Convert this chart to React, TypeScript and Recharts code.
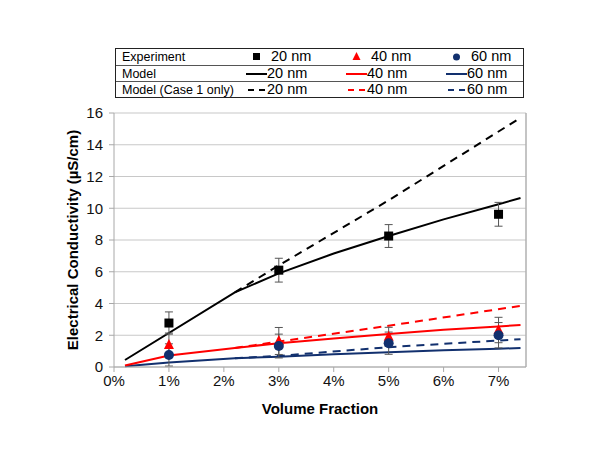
import React from 'react';
import { ComposedChart, Line, Scatter, XAxis, YAxis, CartesianGrid, ErrorBar, ReferenceLine } from 'recharts';

const xTicks = [0, 1, 2, 3, 4, 5, 6, 7];
const yTicks = [0, 2, 4, 6, 8, 10, 12, 14, 16];

const expX = [1, 3, 5, 7];
const exp20 = [2.77, 6.1, 8.25, 9.62];
const exp20Err = [0.7, 0.75, 0.72, 0.75];
const exp40 = [1.39, 1.64, 1.9, 2.33];
const exp40Err = [0.75, 0.85, 0.6, 0.8];
const exp60 = [0.76, 1.32, 1.5, 2.0];
const exp60Err = [0.7, 0.75, 0.7, 0.8];

const model20X = [0.2, 2.2, 3, 4, 5, 6, 7, 7.4];
const model20 = [0.44, 4.7, 5.9, 7.15, 8.25, 9.3, 10.25, 10.65];
const modelX = [0.2, 1, 2.2, 3, 4, 5, 6, 7, 7.4];
const model40 = [0.1, 0.72, 1.2, 1.5, 1.8, 2.08, 2.35, 2.55, 2.65];
const model60 = [0.05, 0.28, 0.55, 0.65, 0.8, 0.93, 1.05, 1.15, 1.2];

const case1X = [2.2, 3, 5, 7.4];
const case1_20 = [4.7, 6.4, 10.5, 15.7];
const case1_40 = [1.2, 1.6, 2.6, 3.85];
const case1_60 = [0.55, 0.7, 1.25, 1.75];

const BLUE = '#12306e';
const RED = '#ff0000';

const toPts = (xs: number[], ys: number[], errs?: number[]) =>
  xs.map((x, i) => ({ x, y: ys[i], err: errs ? errs[i] : 0 }));

const Square = (p: any) => <rect x={p.cx - 4.5} y={p.cy - 4.5} width={9} height={9} fill="#000" />;
const Tri = (p: any) => (
  <polygon points={`${p.cx},${p.cy - 6} ${p.cx - 5},${p.cy + 4} ${p.cx + 5},${p.cy + 4}`} fill={RED} />
);
const Circ = (p: any) => <circle cx={p.cx} cy={p.cy} r={5} fill={BLUE} />;

const font = '"Liberation Sans", Arial, sans-serif';

const legendRows = [
  { label: 'Experiment', kind: 'marker' },
  { label: 'Model', kind: 'solid' },
  { label: 'Model (Case 1 only)', kind: 'dash' },
];
const legendSizes = ['20 nm', '40 nm', '60 nm'];
const legendColors = ['#000', RED, BLUE];

function LegendTable() {
  const colX = [130, 230, 330];
  return (
    <div
      style={{
        position: 'absolute',
        left: 115,
        top: 48,
        width: 409,
        height: 50,
        border: '1.5px solid #222',
        boxSizing: 'border-box',
        fontFamily: font,
        background: '#fff',
      }}
    >
      {legendRows.map((r, ri) => (
        <div
          key={r.label}
          style={{
            position: 'relative',
            height: 16,
            borderTop: ri > 0 ? '1px solid #555' : 'none',
            boxSizing: 'border-box',
          }}
        >
          <span style={{ position: 'absolute', left: 6, top: 1, fontSize: 12.5 }}>{r.label}</span>
          {legendSizes.map((s, si) => (
            <div key={s} style={{ position: 'absolute', left: colX[si], top: 0, height: 16, width: 100 }}>
              <svg width={22} height={16} style={{ position: 'absolute', left: 0, top: 0 }}>
                {r.kind === 'marker' && si === 0 && <rect x={7} y={4} width={7} height={7} fill="#000" />}
                {r.kind === 'marker' && si === 1 && <polygon points="10.5,3 6.5,11 14.5,11" fill={RED} />}
                {r.kind === 'marker' && si === 2 && <circle cx={10.5} cy={8} r={3.5} fill={BLUE} />}
                {r.kind === 'solid' && <line x1={0} x2={21} y1={8} y2={8} stroke={legendColors[si]} strokeWidth={2} />}
                {r.kind === 'dash' && (
                  <line x1={2} x2={21} y1={8} y2={8} stroke={legendColors[si]} strokeWidth={2} strokeDasharray="6 5" />
                )}
              </svg>
              <span style={{ position: 'absolute', left: r.kind === 'marker' ? 25 : 21, top: -1, fontSize: 14.5 }}>{s}</span>
            </div>
          ))}
        </div>
      ))}
    </div>
  );
}

export default function App() {
  return (
    <div style={{ position: 'absolute', left: 0, top: 0, width: 600, height: 464, background: '#fff' }}>
      <ComposedChart
        width={600}
        height={464}
        margin={{ top: 113, right: 74, bottom: 67, left: 54 }}
        style={{ fontFamily: font }}
      >
        <CartesianGrid horizontal vertical={false} stroke="#c8c8c8" strokeWidth={1.2} />
        <XAxis
          type="number"
          dataKey="x"
          domain={[0, 7.5]}
          ticks={xTicks}
          tickFormatter={(v: number) => `${v}%`}
          allowDataOverflow
          stroke="#a8a8a8"
          tickSize={5}
          tickMargin={3}
          height={30}
          tick={{ fill: '#111', fontSize: 15 }}
          label={{ value: 'Volume Fraction', position: 'insideBottom', offset: -17, fill: '#000', fontSize: 15, fontWeight: 'bold' }}
        />
        <YAxis
          type="number"
          domain={[0, 16]}
          ticks={yTicks}
          stroke="#a8a8a8"
          tickSize={5}
          tickMargin={6}
          width={60}
          tick={{ fill: '#111', fontSize: 15 }}
          label={{
            value: 'Electrical Conductivity (µS/cm)',
            angle: -90,
            position: 'center',
            dx: -11,
            fill: '#000',
            fontSize: 15,
            fontWeight: 'bold',
          }}
        />
        <ReferenceLine x={7.5} stroke="#b0b0b0" strokeWidth={1.5} />
        <Line data={toPts(modelX, model60)} dataKey="y" stroke={BLUE} strokeWidth={2} dot={false} isAnimationActive={false} type="linear" />
        <Line data={toPts(modelX, model40)} dataKey="y" stroke={RED} strokeWidth={2} dot={false} isAnimationActive={false} type="linear" />
        <Line data={toPts(model20X, model20)} dataKey="y" stroke="#000" strokeWidth={2} dot={false} isAnimationActive={false} type="linear" />
        <Line data={toPts(case1X, case1_60)} dataKey="y" stroke={BLUE} strokeWidth={2} strokeDasharray="8 6" dot={false} isAnimationActive={false} type="linear" />
        <Line data={toPts(case1X, case1_40)} dataKey="y" stroke={RED} strokeWidth={2} strokeDasharray="8 6" dot={false} isAnimationActive={false} type="linear" />
        <Line data={toPts(case1X, case1_20)} dataKey="y" stroke="#000" strokeWidth={2} strokeDasharray="8 6" dot={false} isAnimationActive={false} type="linear" />
        <Scatter data={toPts(expX, exp20, exp20Err)} dataKey="y" shape={Square} isAnimationActive={false}>
          <ErrorBar dataKey="err" direction="y" width={4} stroke="#555" strokeWidth={1} />
        </Scatter>
        <Scatter data={toPts(expX, exp40, exp40Err)} dataKey="y" shape={Tri} isAnimationActive={false}>
          <ErrorBar dataKey="err" direction="y" width={4} stroke="#555" strokeWidth={1} />
        </Scatter>
        <Scatter data={toPts(expX, exp60, exp60Err)} dataKey="y" shape={Circ} isAnimationActive={false}>
          <ErrorBar dataKey="err" direction="y" width={4} stroke="#555" strokeWidth={1} />
        </Scatter>
      </ComposedChart>
      <LegendTable />
    </div>
  );
}
